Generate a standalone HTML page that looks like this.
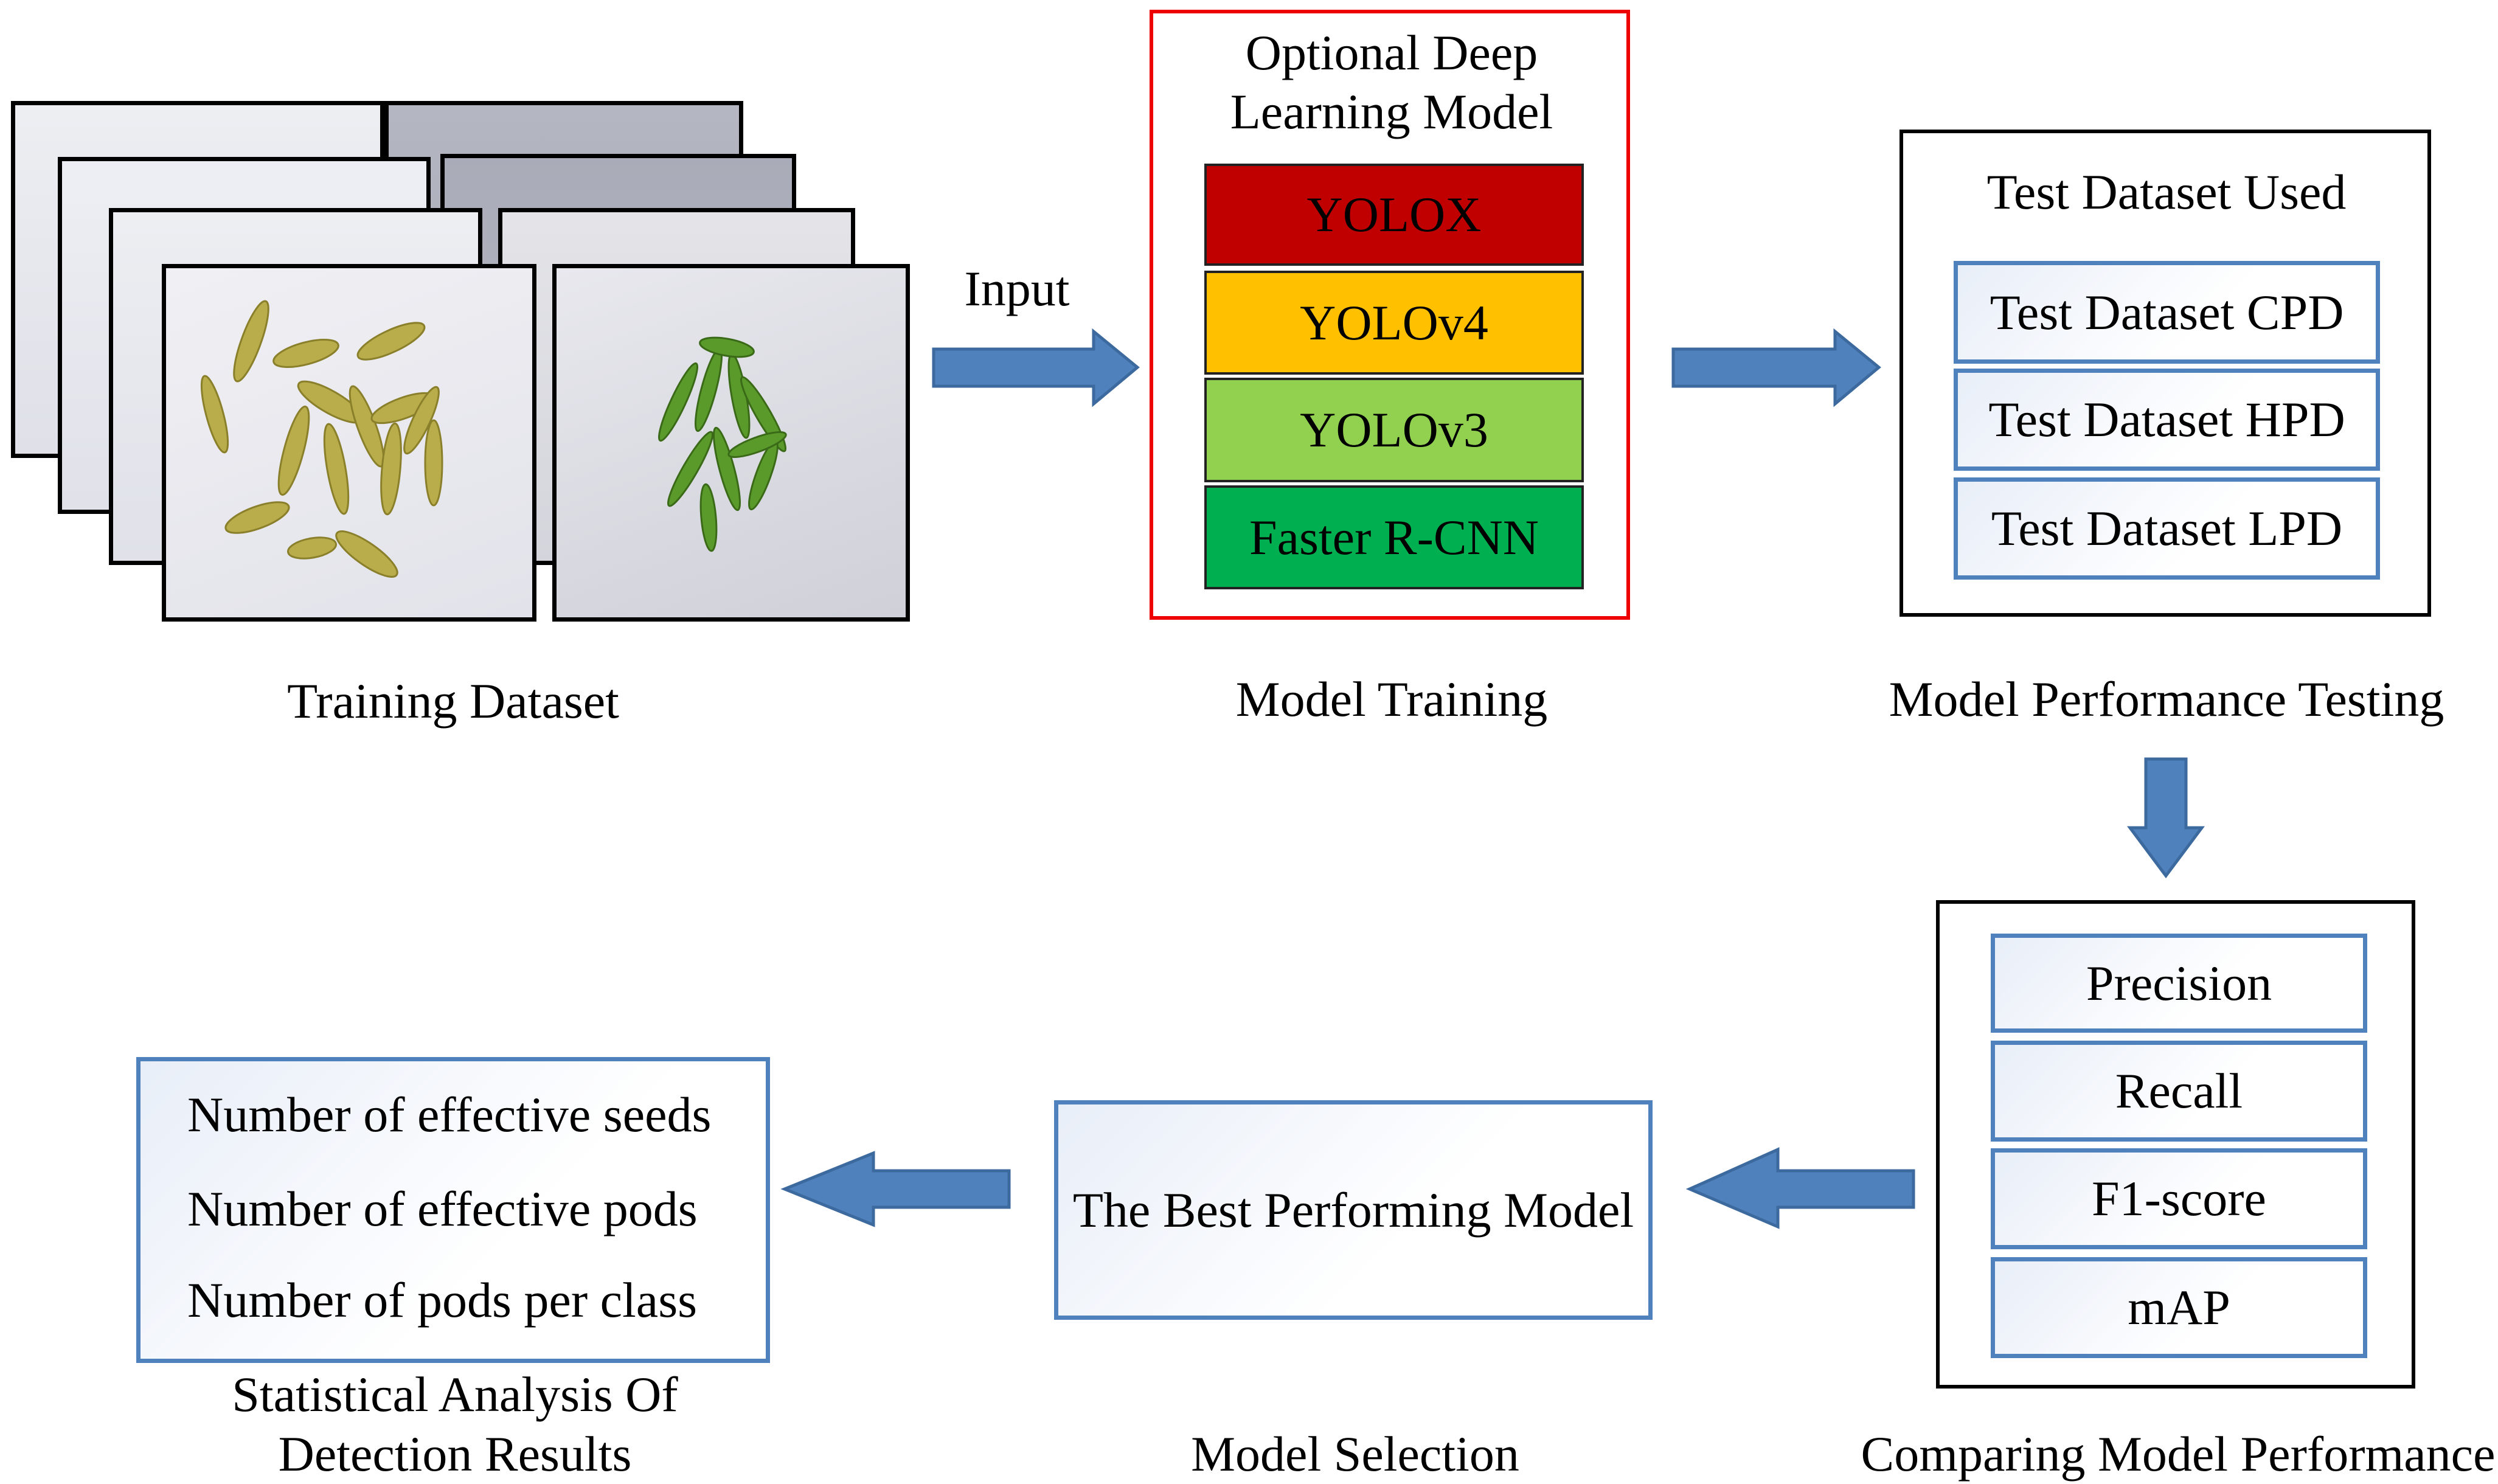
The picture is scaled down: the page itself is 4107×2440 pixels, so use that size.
<!DOCTYPE html>
<html><head><meta charset="utf-8"><style>
body{margin:0;width:4107px;height:2440px;background:#fff;position:relative;overflow:hidden;font-family:"Liberation Serif",serif;color:#000}
.a{position:absolute;box-sizing:border-box}
.t{position:absolute;white-space:nowrap;font-size:82px;line-height:1;transform:translate(-50%,-50%)}
.tl{position:absolute;white-space:nowrap;font-size:82px;line-height:1;transform:translateY(-50%)}
.c{display:flex;align-items:center;justify-content:center;font-size:82px;border:4px solid #222}
.b{display:flex;align-items:center;justify-content:center;font-size:82px;border:7px solid #4f81bd;background:linear-gradient(135deg,#e8eef8,#ffffff 60%)}
.f{border:7px solid #000}
</style></head><body>
<!-- image stack -->
<div class="a f" style="left:632px;top:166px;width:590px;height:587px;background:linear-gradient(#b4b6c2,#a6a9b5)"></div>
<div class="a f" style="left:18px;top:166px;width:614px;height:587px;background:linear-gradient(#eceef2,#dfe0e8)"></div>
<div class="a f" style="left:724px;top:253px;width:585px;height:587px;background:linear-gradient(#a9acb8,#b8bac4)"></div>
<div class="a f" style="left:95px;top:258px;width:613px;height:587px;background:linear-gradient(#edeff4,#e0e1e9)"></div>
<div class="a f" style="left:819px;top:342px;width:587px;height:587px;background:linear-gradient(#e4e4e8,#d4d5dc)"></div>
<div class="a f" style="left:179px;top:342px;width:614px;height:587px;background:linear-gradient(#eceef2,#e0e1e9)"></div>
<div class="a f" style="left:266px;top:434px;width:616px;height:588px;background:linear-gradient(160deg,#f0f0f4,#e2e2ea)">
<svg width="602" height="574" style="position:absolute;left:0;top:0">
<g fill="#b8ad4a" stroke="#8a7f2a" stroke-width="3">
<ellipse cx="140" cy="120" rx="16" ry="70" transform="rotate(20 140 120)"/>
<ellipse cx="230" cy="140" rx="55" ry="18" transform="rotate(-15 230 140)"/>
<ellipse cx="370" cy="120" rx="60" ry="18" transform="rotate(-25 370 120)"/>
<ellipse cx="80" cy="240" rx="14" ry="65" transform="rotate(-15 80 240)"/>
<ellipse cx="270" cy="220" rx="60" ry="18" transform="rotate(30 270 220)"/>
<ellipse cx="330" cy="260" rx="15" ry="70" transform="rotate(-20 330 260)"/>
<ellipse cx="390" cy="230" rx="55" ry="17" transform="rotate(-20 390 230)"/>
<ellipse cx="210" cy="300" rx="16" ry="75" transform="rotate(15 210 300)"/>
<ellipse cx="280" cy="330" rx="15" ry="75" transform="rotate(-10 280 330)"/>
<ellipse cx="370" cy="330" rx="15" ry="75" transform="rotate(5 370 330)"/>
<ellipse cx="440" cy="320" rx="14" ry="70" transform="rotate(0 440 320)"/>
<ellipse cx="150" cy="410" rx="55" ry="18" transform="rotate(-20 150 410)"/>
<ellipse cx="240" cy="460" rx="40" ry="16" transform="rotate(-10 240 460)"/>
<ellipse cx="330" cy="470" rx="60" ry="18" transform="rotate(35 330 470)"/>
<ellipse cx="420" cy="250" rx="14" ry="60" transform="rotate(25 420 250)"/>
</g></svg></div>
<div class="a f" style="left:908px;top:434px;width:588px;height:588px;background:linear-gradient(160deg,#e8e8ee,#cfd0d8)">
<svg width="574" height="574" style="position:absolute;left:0;top:0">
<g fill="#5a9a2a" stroke="#3a6a18" stroke-width="3">
<ellipse cx="200" cy="220" rx="12" ry="70" transform="rotate(25 200 220)"/>
<ellipse cx="250" cy="200" rx="12" ry="70" transform="rotate(15 250 200)"/>
<ellipse cx="300" cy="210" rx="12" ry="70" transform="rotate(-10 300 210)"/>
<ellipse cx="340" cy="240" rx="12" ry="70" transform="rotate(-30 340 240)"/>
<ellipse cx="280" cy="130" rx="45" ry="14" transform="rotate(10 280 130)"/>
<ellipse cx="220" cy="330" rx="12" ry="70" transform="rotate(30 220 330)"/>
<ellipse cx="280" cy="330" rx="12" ry="70" transform="rotate(-15 280 330)"/>
<ellipse cx="340" cy="340" rx="12" ry="60" transform="rotate(20 340 340)"/>
<ellipse cx="250" cy="410" rx="12" ry="55" transform="rotate(-5 250 410)"/>
<ellipse cx="330" cy="290" rx="50" ry="12" transform="rotate(-20 330 290)"/>
</g></svg></div>
<div class="t" style="left:745px;top:1153px">Training Dataset</div>
<div class="t" style="left:1672px;top:475px">Input</div>
<!-- arrows -->
<svg class="a" style="left:0;top:0" width="4107" height="2440">
<g fill="#4f81bd" stroke="#3d6a9e" stroke-width="5">
<polygon points="1535,574 1798,574 1798,545 1870,604 1798,664 1798,635 1535,635"/>
<polygon points="2751,574 3017,574 3017,545 3089,604 3017,664 3017,635 2751,635"/>
<polygon points="3528,1248 3594,1248 3594,1361 3620,1361 3561,1440 3502,1361 3528,1361"/>
<polygon points="3146,1925 2923,1925 2923,1890 2778,1955 2923,2017 2923,1985 3146,1985"/>
<polygon points="1659,1925 1436,1925 1436,1896 1290,1955 1436,2014 1436,1985 1659,1985"/>
</g></svg>
<!-- model training -->
<div class="a" style="left:1890px;top:16px;width:790px;height:1003px;border:6px solid #e00"></div>
<div class="t" style="left:2288px;top:87px">Optional Deep</div>
<div class="t" style="left:2288px;top:184px">Learning Model</div>
<div class="a c" style="left:1980px;top:269px;width:624px;height:168px;background:#c00000">YOLOX</div>
<div class="a c" style="left:1980px;top:445px;width:624px;height:171px;background:#ffc000">YOLOv4</div>
<div class="a c" style="left:1980px;top:621px;width:624px;height:172px;background:#92d050">YOLOv3</div>
<div class="a c" style="left:1980px;top:798px;width:624px;height:171px;background:#00b050">Faster R-CNN</div>
<div class="t" style="left:2288px;top:1150px">Model Training</div>
<!-- testing -->
<div class="a" style="left:3123px;top:213px;width:874px;height:801px;border:6px solid #000"></div>
<div class="t" style="left:3562px;top:316px">Test Dataset Used</div>
<div class="a b" style="left:3212px;top:429px;width:701px;height:169px">Test Dataset CPD</div>
<div class="a b" style="left:3212px;top:606px;width:701px;height:168px">Test Dataset HPD</div>
<div class="a b" style="left:3212px;top:785px;width:701px;height:168px">Test Dataset LPD</div>
<div class="t" style="left:3562px;top:1150px">Model Performance Testing</div>
<!-- compare -->
<div class="a" style="left:3183px;top:1480px;width:788px;height:803px;border:6px solid #000"></div>
<div class="a b" style="left:3273px;top:1535px;width:619px;height:163px">Precision</div>
<div class="a b" style="left:3273px;top:1711px;width:619px;height:166px">Recall</div>
<div class="a b" style="left:3273px;top:1888px;width:619px;height:166px">F1-score</div>
<div class="a b" style="left:3273px;top:2067px;width:619px;height:166px">mAP</div>
<div class="t" style="left:3581px;top:2391px">Comparing Model Performance</div>
<!-- selection -->
<div class="a b" style="left:1733px;top:1809px;width:984px;height:361px">The Best Performing Model</div>
<div class="t" style="left:2228px;top:2391px">Model Selection</div>
<!-- stats -->
<div class="a b" style="left:224px;top:1738px;width:1042px;height:503px"></div>
<div class="tl" style="left:308px;top:1833px">Number of effective seeds</div>
<div class="tl" style="left:308px;top:1988px">Number of effective pods</div>
<div class="tl" style="left:308px;top:2138px">Number of pods per class</div>
<div class="t" style="left:748px;top:2293px">Statistical Analysis Of</div>
<div class="t" style="left:748px;top:2391px">Detection Results</div>
</body></html>
